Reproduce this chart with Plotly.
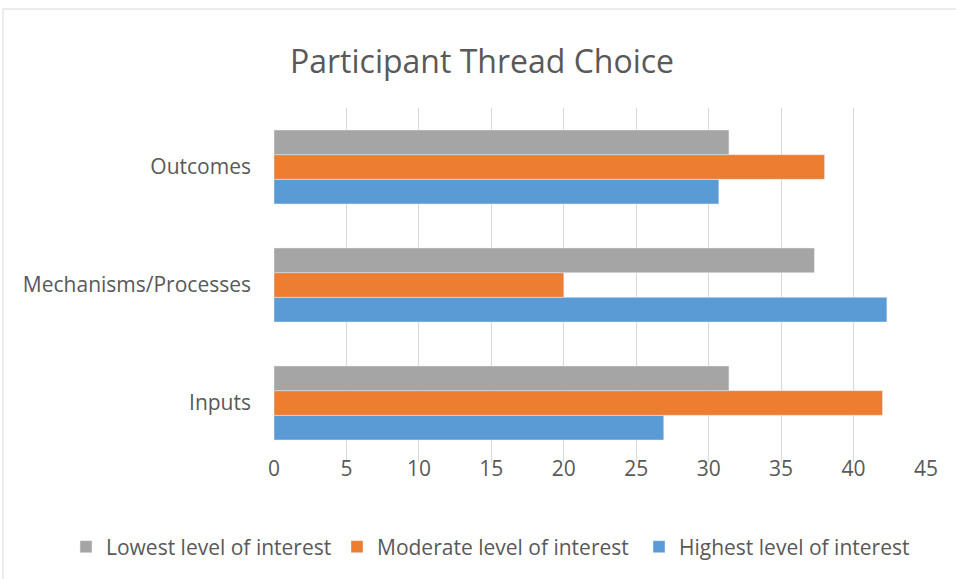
import plotly.graph_objects as go

categories = ["Inputs", "Mechanisms/Processes", "Outcomes"]
highest = [26.9, 42.3, 30.7]
moderate = [42.0, 20.0, 38.0]
lowest = [31.4, 37.3, 31.4]
x_ticks = [0, 5, 10, 15, 20, 25, 30, 35, 40, 45]

FONT = "Open Sans, sans-serif"
TXT = "#595959"

fig = go.Figure()
fig.add_trace(go.Bar(y=categories, x=highest, orientation="h", name="Highest level of interest",
                     marker=dict(color="#5B9BD5"), legend="legend3"))
fig.add_trace(go.Bar(y=categories, x=moderate, orientation="h", name="Moderate level of interest",
                     marker=dict(color="#ED7D31"), legend="legend2"))
fig.add_trace(go.Bar(y=categories, x=lowest, orientation="h", name="Lowest level of interest",
                     marker=dict(color="#A5A5A5"), legend="legend"))

W, H = 956, 579
L, R, T, B = 274, 30, 108, 117
pw, ph = W - L - R, H - T - B

def px(x):
    return (x - L) / pw

def py(y):
    return (H - B - y) / ph

def leg(xpix):
    return dict(orientation="h", xref="container", yref="container", x=xpix / W,
                xanchor="left", y=1 - 547 / H, yanchor="middle", itemwidth=30,
                font=dict(size=21, color=TXT), bgcolor="rgba(0,0,0,0)")

fig.update_layout(
    width=W, height=H,
    margin=dict(l=L, r=R, t=T, b=B, autoexpand=False),
    paper_bgcolor="white", plot_bgcolor="white",
    showlegend=True,
    barmode="group", bargap=0.373, bargroupgap=0,
    font=dict(family=FONT, color=TXT, size=21),
    title=dict(text="Participant Thread Choice", x=(482 / W), xanchor="center",
               y=1 - 62 / H, yanchor="middle",
               font=dict(size=32, color=TXT, family=FONT)),
    legend=leg(66),
    legend2=leg(337),
    legend3=leg(639),
    xaxis=dict(range=[0, 45], tickvals=x_ticks, showgrid=True, gridcolor="#D9D9D9",
               gridwidth=1, zeroline=False, showline=False, ticks="",
               ticklabelstandoff=-8,
               tickfont=dict(size=21, color=TXT)),
    yaxis=dict(showgrid=False, showline=False, ticks="", ticklen=0,
               ticklabelstandoff=22,
               tickfont=dict(size=21, color=TXT)),
    shapes=[dict(type="rect", xref="paper", yref="paper",
                 x0=px(3), x1=px(960), y0=py(582), y1=py(9),
                 line=dict(color="#D9D9D9", width=1), fillcolor="rgba(0,0,0,0)", layer="below")],
)
fig.update_xaxes(automargin=False)
fig.update_yaxes(automargin=False)

fig.write_html("out.html", post_script="document.body.style.margin='0px';",
               config={"displayModeBar": False})
